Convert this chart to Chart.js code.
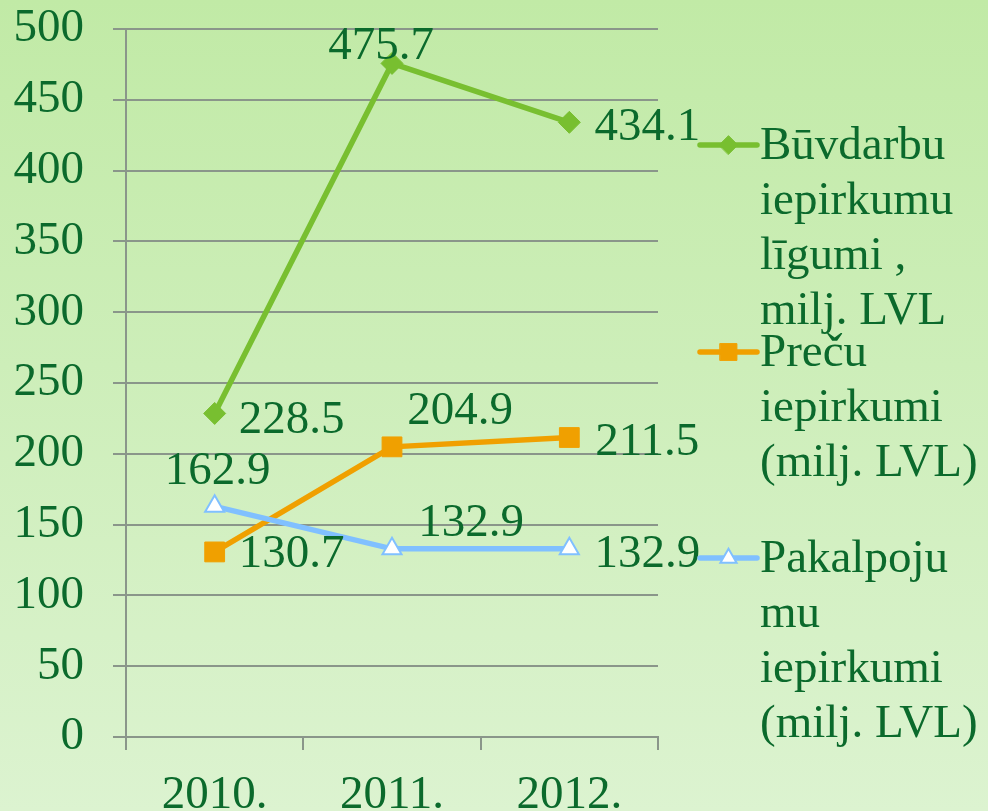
<!DOCTYPE html>
<html><head><meta charset="utf-8">
<script src="https://cdn.jsdelivr.net/npm/chart.js@4.4.1/dist/chart.umd.min.js"></script>
<style>
html,body{margin:0;padding:0;}
#wrap{width:988px;height:811px;background:linear-gradient(to bottom,#c1eaa6 0%,#cdeeb9 45%,#dcf3d0 100%);}
canvas{display:block;}
</style></head><body>
<div id="wrap"><canvas id="c" width="988" height="811"></canvas></div>
<script>
// ---- data ----
const categories = ['2010.', '2011.', '2012.'];
const buvdarbi = [228.5, 475.7, 434.1];
const precu = [130.7, 204.9, 211.5];
const pakalpojumi = [162.9, 132.9, 132.9];
const seriesNames = [
  ['Būvdarbu', 'iepirkumu', 'līgumi ,', 'milj. LVL'],
  ['Preču', 'iepirkumi', '(milj. LVL)'],
  ['Pakalpoju', 'mu', 'iepirkumi', '(milj. LVL)']
];
const yMin = 0, yMax = 500, yStep = 50;

// ---- style ----
const FONT = '"Liberation Serif", "Times New Roman", serif';
const FS = 47;
const TEXT = '#0b6a2c';
const GRID = '#8a968a';
const labelOffsets = [
  [[77, 7], [-11, -17], [78, 5]],
  [[77, 3], [68, -35], [78, 5]],
  [[3, -35], [79, -25], [78, 6]]
];
const legendSlots = [118, 325, 531];
const LEGEND_LH = 55;

const labelPlugin = {
  id: 'pointLabels',
  afterDatasetsDraw(chart) {
    const ctx = chart.ctx;
    ctx.save();
    ctx.font = FS + 'px ' + FONT;
    ctx.fillStyle = TEXT;
    ctx.textAlign = 'center';
    ctx.textBaseline = 'middle';
    chart.data.datasets.forEach((ds, i) => {
      const meta = chart.getDatasetMeta(i);
      meta.data.forEach((pt, j) => {
        const o = labelOffsets[i][j];
        ctx.fillText(ds.data[j].toFixed(1), pt.x + o[0], pt.y + o[1]);
      });
    });
    ctx.restore();
  }
};

const legendPlugin = {
  id: 'sideLegend',
  afterDraw(chart) {
    const ctx = chart.ctx;
    const a = chart.chartArea;
    chart.data.datasets.forEach((ds, i) => {
      const y = a.top + legendSlots[i];
      const x0 = a.right + 42, x1 = a.right + 99;
      ctx.save();
      ctx.strokeStyle = ds.borderColor;
      ctx.lineWidth = ds.borderWidth;
      ctx.lineCap = 'round';
      ctx.beginPath(); ctx.moveTo(x0, y - 2); ctx.lineTo(x1, y - 2); ctx.stroke();
      ctx.fillStyle = ds.pointBackgroundColor;
      ctx.strokeStyle = ds.pointBorderColor;
      ctx.lineWidth = ds.pointBorderWidth;
      Chart.helpers.drawPoint(ctx, {pointStyle: ds.pointStyle, radius: ds.pointRadius * 0.85, borderWidth: ds.pointBorderWidth, rotation: 0}, (x0 + x1) / 2, y - 2);
      ctx.font = FS + 'px ' + FONT;
      ctx.fillStyle = TEXT;
      ctx.textAlign = 'left';
      ctx.textBaseline = 'middle';
      seriesNames[i].forEach((line, k) => ctx.fillText(line, a.right + 102, y + k * LEGEND_LH));
      ctx.restore();
    });
  }
};

new Chart(document.getElementById('c'), {
  type: 'line',
  data: {
    labels: categories,
    datasets: [
      {label: seriesNames[0].join(' '), data: buvdarbi, borderColor: '#78bf30', backgroundColor: '#78bf30',
       borderWidth: 5.5, pointStyle: 'rectRot', pointRadius: 11, pointBackgroundColor: '#78bf30',
       pointBorderColor: '#78bf30', pointBorderWidth: 1, order: 2, tension: 0},
      {label: seriesNames[1].join(' '), data: precu, borderColor: '#f0a000', backgroundColor: '#f0a000',
       borderWidth: 5.5, pointStyle: 'rect', pointRadius: 14, pointBackgroundColor: '#f0a000',
       pointBorderColor: '#f0a000', pointBorderWidth: 1, order: 1, tension: 0},
      {label: seriesNames[2].join(' '), data: pakalpojumi, borderColor: '#80c0ff', backgroundColor: '#80c0ff',
       borderWidth: 5.5, pointStyle: 'triangle', pointRadius: 11, pointBackgroundColor: '#ffffff',
       pointBorderColor: '#80c0ff', pointBorderWidth: 2, order: 0, tension: 0}
    ]
  },
  options: {
    responsive: false,
    animation: false,
    layout: {padding: {top: 29, right: 330, left: 0, bottom: 0}},
    plugins: {legend: {display: false}, tooltip: {enabled: false}},
    scales: {
      x: {
        offset: true,
        grid: {offset: true, drawOnChartArea: false, drawTicks: true, tickLength: 13, color: GRID, lineWidth: 2},
        border: {display: true, color: GRID, width: 2},
        ticks: {font: {family: FONT, size: FS, lineHeight: 1.0}, color: TEXT, padding: 22, maxRotation: 0},
        afterFit(scale) { scale.height = 74; scale.paddingLeft = 0; scale.paddingRight = 0; }
      },
      y: {
        min: yMin, max: yMax,
        grid: {tickLength: 13, color: GRID, lineWidth: 2},
        border: {display: true, color: GRID, width: 2},
        ticks: {stepSize: yStep, font: {family: FONT, size: FS}, color: TEXT, padding: 29},
        afterFit(scale) { scale.width = 126; scale.paddingTop = 0; scale.paddingBottom = 0; }
      }
    }
  },
  plugins: [labelPlugin, legendPlugin]
});
</script>
</body></html>
